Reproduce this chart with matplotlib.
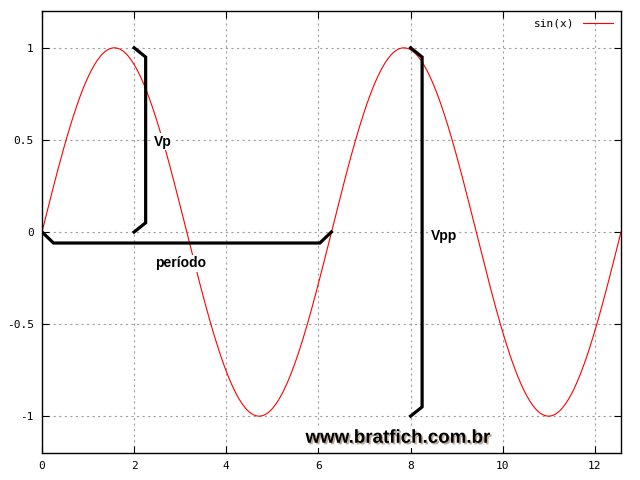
import numpy as np
import matplotlib.pyplot as plt
import matplotlib.patheffects as pe

# curve
x = np.linspace(0, 4 * np.pi, 400)
y = np.sin(x)

# annotation brackets (x, y)
vp_x = [2.0, 2.25, 2.25, 2.0]
vp_y = [1.0, 0.95, 0.05, 0.0]
per_x = [0.0, 0.25, 6.03, 6.28]
per_y = [0.0, -0.06, -0.06, 0.0]
vpp_x = [8.0, 8.25, 8.25, 8.0]
vpp_y = [1.0, 0.95, -0.95, -1.0]

xticks = [0, 2, 4, 6, 8, 10, 12]
yticks = [-1, -0.5, 0, 0.5, 1]
yticklabels = ['-1', '-0.5', '0', '0.5', '1']

fig = plt.figure(figsize=(6.4, 4.8), dpi=100)
ax = fig.add_axes([0.0656, 0.0563, 0.9047, 0.9208])

ax.plot(x, y, color='red', lw=0.8, label='sin(x)', zorder=2)

box = dict(facecolor='white', edgecolor='none', pad=1)
ax.text(2.42, 0.49, 'Vp', fontsize=10, fontweight='bold', family='Liberation Sans',
        va='center', ha='left', bbox=box, zorder=3)
ax.text(8.45, -0.02, 'Vpp', fontsize=10, fontweight='bold', family='Liberation Sans',
        va='center', ha='left', bbox=box, zorder=3)
ax.text(2.45, -0.17, 'período', fontsize=10, fontweight='bold', family='Liberation Sans',
        va='center', ha='left', bbox=box, zorder=3)
ax.text(5.72, -1.12, 'www.bratfich.com.br', fontsize=13.5, fontweight='bold',
        family='Liberation Sans', va='center', ha='left', bbox=box, zorder=3,
        path_effects=[pe.SimplePatchShadow(offset=(1.2, -1.2), shadow_rgbFace='#b8a090', alpha=0.9),
                      pe.Normal()])

for xs, ys in [(vp_x, vp_y), (per_x, per_y), (vpp_x, vpp_y)]:
    ax.plot(xs, ys, color='black', lw=2.3, solid_joinstyle='miter', zorder=4)

ax.set_xlim(0, 4 * np.pi)
ax.set_ylim(-1.2, 1.2)
ax.set_xticks(xticks)
ax.set_yticks(yticks)
ax.set_yticklabels(yticklabels)
ax.grid(True, color='#a0a0a0', linestyle=(0, (2, 3)), linewidth=0.8)
ax.tick_params(direction='in', top=True, right=True, length=5, labelsize=8, pad=6)
for lab in ax.get_xticklabels() + ax.get_yticklabels():
    lab.set_family('DejaVu Sans Mono')
for s in ax.spines.values():
    s.set_linewidth(1.0)

leg = ax.legend(loc='upper right', frameon=False, markerfirst=False,
                prop={'family': 'DejaVu Sans Mono', 'size': 8},
                handlelength=2.7, borderaxespad=0.3)

fig.savefig('out.png', dpi=100)
